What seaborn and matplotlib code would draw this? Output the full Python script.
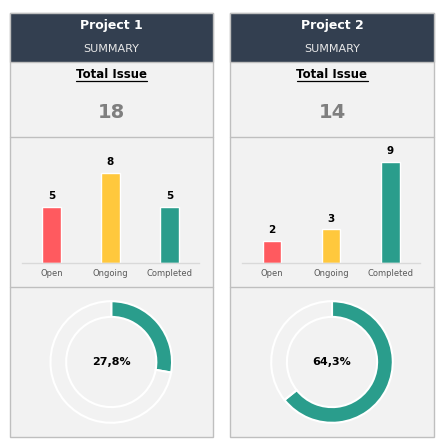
import matplotlib
matplotlib.use("Agg")
import matplotlib.pyplot as plt
from matplotlib.patches import Rectangle
from matplotlib.lines import Line2D
import seaborn as sns
import pandas as pd

# data
projects = ['Project 1', 'Project 2']
statuses = ['Open', 'Ongoing', 'Completed']
open_counts = [5, 2]
ongoing_counts = [8, 3]
completed_counts = [5, 9]

status_colors = {'Open': '#ff5a5f', 'Ongoing': '#ffc83d', 'Completed': '#2a9d8c'}
header_color = '#333f50'
panel_bg = '#f2f2f2'
border = '#bfbfbf'

W, H = 446, 448
sns.set_theme(style='white')
plt.rcParams['font.family'] = ['DejaVu Sans']

fig = plt.figure(figsize=(W / 100, H / 100), dpi=100)
fig.patch.set_facecolor('white')


def box(x0, y0, x1, y1):
    # pixel box (top-left origin) -> figure fraction [l, b, w, h]
    return [x0 / W, 1 - y1 / H, (x1 - x0) / W, (y1 - y0) / H]


def fy(y):
    return 1 - y / H


def fx(x):
    return x / W


panel_x = [(9.5, 213), (230, 434)]
underlines = []

for i, name in enumerate(projects):
    x0, x1 = panel_x[i]
    cx = (x0 + x1) / 2
    counts = [open_counts[i], ongoing_counts[i], completed_counts[i]]
    total = sum(counts)
    pct = completed_counts[i] / total * 100

    # panel background + header
    fig.patches.append(Rectangle((fx(x0), fy(437)), fx(x1) - fx(x0), fy(13) - fy(437),
                                 transform=fig.transFigure, facecolor=panel_bg,
                                 edgecolor=border, linewidth=1, zorder=-2))
    fig.patches.append(Rectangle((fx(x0), fy(62)), fx(x1) - fx(x0), fy(13) - fy(62),
                                 transform=fig.transFigure, facecolor=header_color,
                                 edgecolor=border, linewidth=1, zorder=-1))
    for yy in (137, 287):
        fig.lines.append(Line2D([fx(x0), fx(x1)], [fy(yy), fy(yy)], transform=fig.transFigure,
                                color=border, linewidth=1, zorder=-1))

    fig.text(fx(cx), fy(25), name, ha='center', va='center', color='white',
             fontsize=9, fontweight='bold')
    fig.text(fx(cx), fy(49), 'SUMMARY', ha='center', va='center', color='#e8e8e8',
             fontsize=8)
    t = fig.text(fx(cx), fy(74), 'Total Issue', ha='center', va='center', color='black',
                 fontsize=8.5, fontweight='bold')
    underlines.append(t)
    fig.text(fx(cx), fy(113), str(total), ha='center', va='center', color='#7f7f7f',
             fontsize=14, fontweight='bold')

    # bar chart
    df = pd.DataFrame({'status': statuses, 'count': counts})
    ax = fig.add_axes(box(x0 + 12.5, 145, x1 - 14, 263))
    ax.set_zorder(2)
    sns.barplot(data=df, x='status', y='count', hue='status', palette=status_colors,
                order=statuses, hue_order=statuses, legend=False, width=0.31,
                saturation=1, ax=ax)
    ax.patch.set_alpha(0)
    ax.set_xlim(-0.5, 2.5)
    ax.set_ylim(0, 118 / 11.25)
    for c in ax.containers:
        ax.bar_label(c, padding=4, fontsize=7.5, fontweight='bold', color='black')
    ax.set_xlabel('')
    ax.set_ylabel('')
    ax.set_yticks([])
    ax.tick_params(axis='x', length=0, pad=4, labelsize=6, labelcolor='#595959')
    for s in ['top', 'left', 'right']:
        ax.spines[s].set_visible(False)
    ax.spines['bottom'].set_color('#d9d9d9')
    ax.spines['bottom'].set_linewidth(1)

    # donut
    r = 62
    dax = fig.add_axes(box(cx - r, 362 - r, cx + r, 362 + r))
    dax.set_zorder(2)
    dax.pie([pct, 100 - pct], colors=[status_colors['Completed'], panel_bg],
            startangle=90, counterclock=False, radius=1,
            wedgeprops=dict(width=16 / 62, edgecolor='white', linewidth=1.5))
    dax.set_xlim(-1.02, 1.02)
    dax.set_ylim(-1.02, 1.02)
    dax.set_aspect('equal')
    dax.axis('off')
    dax.text(0, 0, f'{pct:.1f}%'.replace('.', ','), ha='center', va='center',
             fontsize=8, fontweight='bold', color='black')

# underline "Total Issue"
fig.canvas.draw()
renderer = fig.canvas.get_renderer()
for t in underlines:
    bb = t.get_window_extent(renderer).transformed(fig.transFigure.inverted())
    fig.lines.append(Line2D([bb.x0, bb.x1], [bb.y0 - 0.002, bb.y0 - 0.002],
                            transform=fig.transFigure, color='black', linewidth=0.9))

fig.savefig('out.png', dpi=100, facecolor='white')
